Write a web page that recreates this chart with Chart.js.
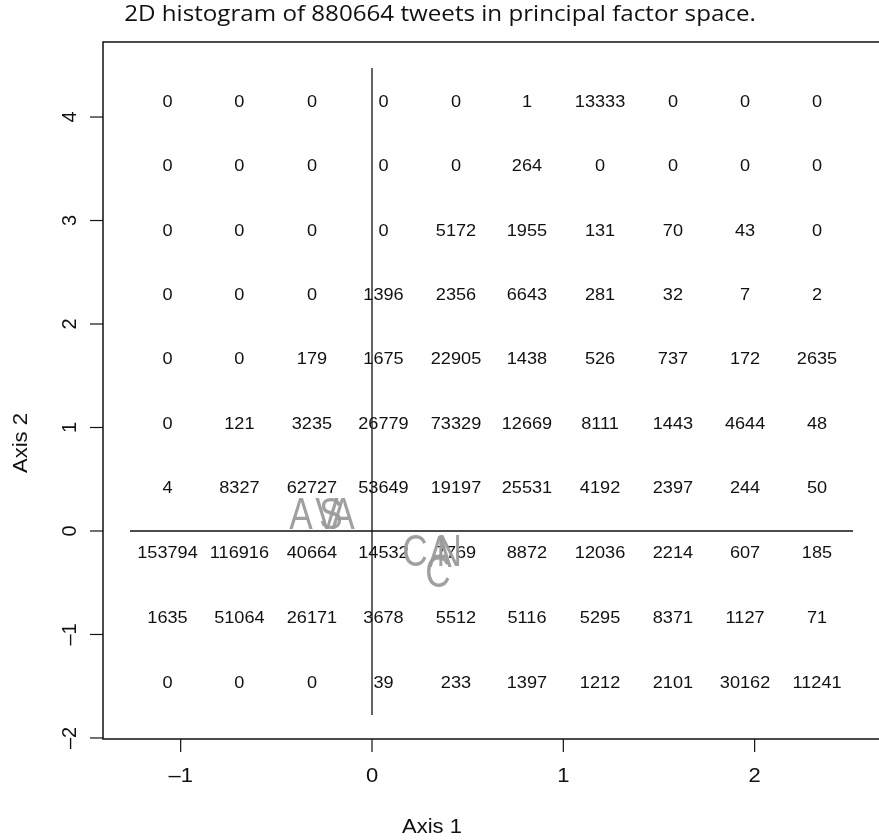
<!DOCTYPE html>
<html>
<head>
<meta charset="utf-8">
<script src="https://cdn.jsdelivr.net/npm/chart.js@4.4.1/dist/chart.umd.min.js"></script>
<style>
  html, body { margin: 0; padding: 0; background: #fff; overflow: hidden; }
  #wrap { position: relative; width: 879px; height: 840px; }
</style>
</head>
<body>
<div id="wrap"><canvas id="cnv" width="879" height="840"></canvas></div>
<script>
/* 2D histogram of tweets in principal factor space, R base-graphics look */

const TITLE = '2D histogram of 880664 tweets in principal factor space.';
const X_TITLE = 'Axis 1';
const Y_TITLE = 'Axis 2';
const X_TICKS = [-1, 0, 1, 2];
const Y_TICKS = [-2, -1, 0, 1, 2, 3, 4];

// bin centres
const xCenters = [-1.069, -0.693, -0.314, 0.060, 0.439, 0.810, 1.192, 1.573, 1.950, 2.326];
const yCenters = [4.145, 3.527, 2.899, 2.280, 1.662, 1.034, 0.415, -0.213, -0.841, -1.469];

// counts, one row per y bin, top to bottom
const counts = [
  [0, 0, 0, 0, 0, 1, 13333, 0, 0, 0],
  [0, 0, 0, 0, 0, 264, 0, 0, 0, 0],
  [0, 0, 0, 0, 5172, 1955, 131, 70, 43, 0],
  [0, 0, 0, 1396, 2356, 6643, 281, 32, 7, 2],
  [0, 0, 179, 1675, 22905, 1438, 526, 737, 172, 2635],
  [0, 121, 3235, 26779, 73329, 12669, 8111, 1443, 4644, 48],
  [4, 8327, 62727, 53649, 19197, 25531, 4192, 2397, 244, 50],
  [153794, 116916, 40664, 14532, 7769, 8872, 12036, 2214, 607, 185],
  [1635, 51064, 26171, 3678, 5512, 5116, 5295, 8371, 1127, 71],
  [0, 0, 0, 39, 233, 1397, 1212, 2101, 30162, 11241],
];

// reference lines through the origin, spanning the data range
const vLineY = [-1.778, 4.473];
const hLineX = [-1.265, 2.514];

// grey group labels
const groupLabels = ['A', 'V', 'S', 'A', 'C', 'A', 'N', 'C'];
const groupX = [-0.371, -0.235, -0.214, -0.152, 0.225, 0.355, 0.403, 0.345];
const groupY = [0.135, 0.135, 0.135, 0.135, -0.222, -0.232, -0.222, -0.425];

const SANS = '"Liberation Sans", Arial, Helvetica, sans-serif';
const INK = '#111';
const STRETCH = 1.1; // the source figure is a little wider than tall

const cellPoints = [];
const cellTexts = [];
counts.forEach((row, r) => {
  row.forEach((v, c) => {
    cellPoints.push({ x: xCenters[c], y: yCenters[r] });
    cellTexts.push(String(v));
  });
});

const groupPoints = groupLabels.map((_, i) => ({ x: groupX[i], y: groupY[i] }));

function stretchedText(ctx, txt, x, y, sx, rot) {
  ctx.save();
  ctx.translate(x, y);
  if (rot) ctx.rotate(rot);
  ctx.scale(sx, 1);
  ctx.fillText(txt, 0, 0);
  ctx.restore();
}

// draw the text attached to point datasets
function textPlugin() {
  return {
    id: 'pointText',
    afterDatasetsDraw(chart) {
      const { ctx } = chart;
      chart.data.datasets.forEach((ds, di) => {
        if (!ds.texts) return;
        const meta = chart.getDatasetMeta(di);
        ctx.save();
        ctx.fillStyle = ds.textColor;
        ctx.font = ds.textFont;
        ctx.textAlign = 'center';
        ctx.textBaseline = 'middle';
        meta.data.forEach((pt, i) => stretchedText(ctx, ds.texts[i], pt.x, pt.y, ds.textScaleX || 1));
        ctx.restore();
      });
    },
  };
}

// box, axes, ticks, titles the way R's plot() draws them
function framePlugin() {
  return {
    id: 'rFrame',
    afterDraw(chart) {
      const { ctx, chartArea: a, scales } = chart;
      ctx.save();
      ctx.strokeStyle = INK;
      ctx.lineWidth = 1.5;
      // box (right edge falls off the canvas)
      ctx.beginPath();
      ctx.moveTo(a.right + 5, a.top);
      ctx.lineTo(a.left, a.top);
      ctx.lineTo(a.left, a.bottom);
      ctx.lineTo(a.right + 5, a.bottom);
      ctx.stroke();

      ctx.lineWidth = 1.2;
      ctx.fillStyle = INK;
      ctx.font = '20px ' + SANS;
      ctx.textAlign = 'center';
      ctx.textBaseline = 'middle';
      const lab = t => (t < 0 ? '\u2013' + Math.abs(t) : String(t));

      // x axis
      X_TICKS.forEach(t => {
        const px = scales.x.getPixelForValue(t);
        ctx.beginPath(); ctx.moveTo(px, a.bottom); ctx.lineTo(px, a.bottom + 13); ctx.stroke();
        stretchedText(ctx, lab(t), px, a.bottom + 37, STRETCH);
      });

      // y axis, labels rotated
      Y_TICKS.forEach(t => {
        const py = scales.y.getPixelForValue(t);
        ctx.beginPath(); ctx.moveTo(a.left - 13, py); ctx.lineTo(a.left, py); ctx.stroke();
        stretchedText(ctx, lab(t), a.left - 33, py, 1, -Math.PI / 2);
      });

      // axis titles
      stretchedText(ctx, X_TITLE, 432, 827, STRETCH);
      stretchedText(ctx, Y_TITLE, 21, 443, 1.1, -Math.PI / 2);

      // main title
      ctx.font = '21px "Open Sans", Lato, sans-serif';
      stretchedText(ctx, TITLE, 440, 15, 1.15);
      ctx.restore();
    },
  };
}

new Chart(document.getElementById('cnv'), {
  type: 'scatter',
  data: {
    datasets: [
      {
        label: 'vline',
        type: 'line',
        data: [{ x: 0, y: vLineY[0] }, { x: 0, y: vLineY[1] }],
        borderColor: INK, borderWidth: 1.3, pointRadius: 0, fill: false,
      },
      {
        label: 'hline',
        type: 'line',
        data: [{ x: hLineX[0], y: 0 }, { x: hLineX[1], y: 0 }],
        borderColor: INK, borderWidth: 1.3, pointRadius: 0, fill: false,
      },
      {
        label: 'counts',
        data: cellPoints,
        pointRadius: 0,
        texts: cellTexts,
        textColor: INK,
        textFont: '16.5px ' + SANS,
        textScaleX: STRETCH,
      },
      {
        label: 'groups',
        data: groupPoints,
        pointRadius: 0,
        texts: groupLabels,
        textColor: 'rgba(155,155,155,0.95)',
        textFont: '44px ' + SANS,
        textScaleX: 0.8,
      },
    ],
  },
  options: {
    responsive: false,
    animation: false,
    devicePixelRatio: 1,
    layout: { padding: { left: 103, top: 42, right: 0, bottom: 101 } },
    plugins: { legend: { display: false }, tooltip: { enabled: false } },
    scales: {
      x: { type: 'linear', display: false, min: -1.406, max: 2.65 },
      y: { type: 'linear', display: false, min: -2.01, max: 4.725 },
    },
  },
  plugins: [textPlugin(), framePlugin()],
});
</script>
</body>
</html>
